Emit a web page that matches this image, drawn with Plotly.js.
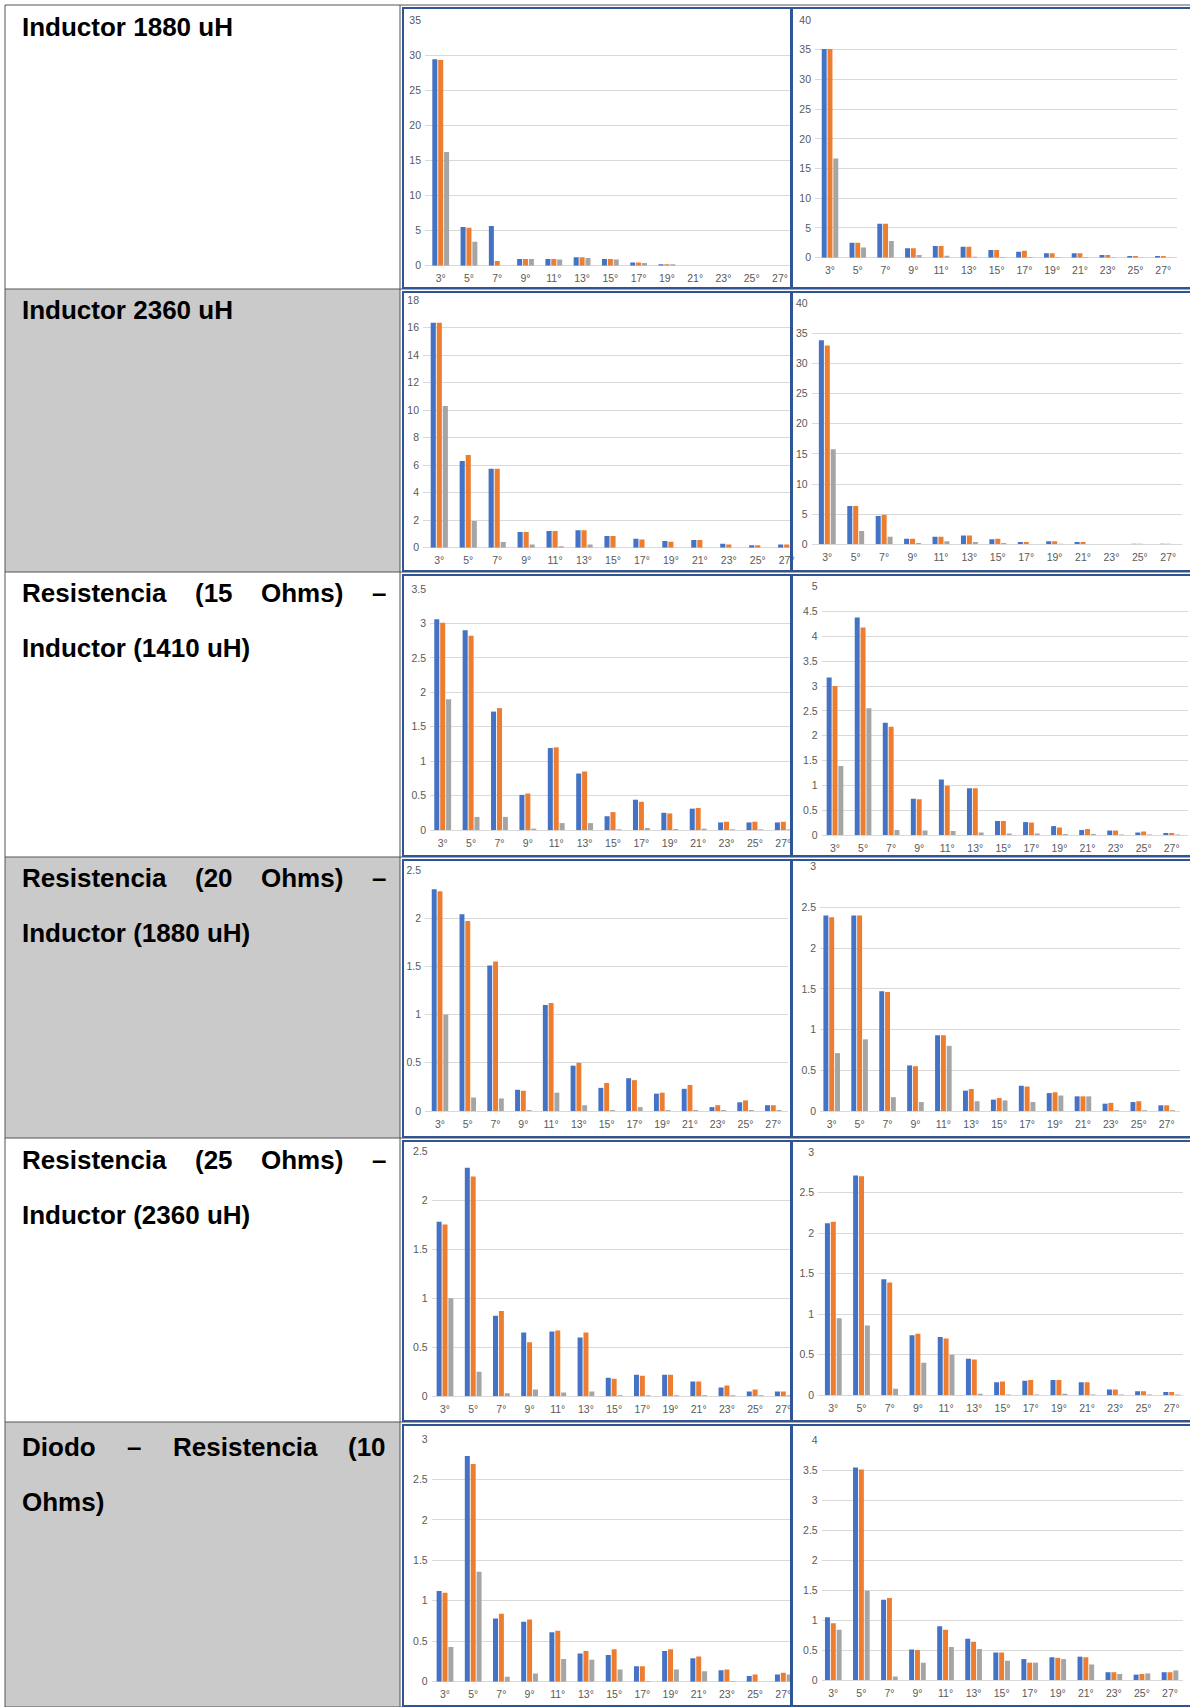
<!DOCTYPE html>
<html>
<head>
<meta charset="utf-8">
<script src="https://cdn.plot.ly/plotly-3.0.1.min.js"></script>
<style>
html,body{margin:0;padding:0;background:#ffffff;}
#chart{width:1190px;height:1707px;}
</style>
</head>
<body>
<div id="chart"></div>
<script>
// ---------- categories ----------
const harmonics = ['3°','5°','7°','9°','11°','13°','15°','17°','19°','21°','23°','25°','27°'];

// ---------- row labels ----------
const rowLabels = [
  ['Inductor 1880 uH'],
  ['Inductor 2360 uH'],
  ['Resistencia (15 Ohms) –', 'Inductor (1410 uH)'],
  ['Resistencia (20 Ohms) –', 'Inductor (1880 uH)'],
  ['Resistencia (25 Ohms) –', 'Inductor (2360 uH)'],
  ['Diodo – Resistencia (10', 'Ohms)']
];

// ---------- series values (one set of three series per chart) ----------
// Row 1: Inductor 1880 uH
const r1L_s1 = [29.4, 5.5, 5.65, 0.95, 0.95, 1.2, 0.95, 0.45, 0.2, 0, 0, 0, 0];
const r1L_s2 = [29.3, 5.4, 0.66, 0.95, 0.95, 1.2, 0.95, 0.45, 0.2, 0, 0, 0, 0];
const r1L_s3 = [16.2, 3.4, 0, 0.95, 0.9, 1.1, 0.9, 0.4, 0.2, 0, 0, 0, 0];
const r1R_s1 = [35.1, 2.5, 5.7, 1.57, 1.96, 1.85, 1.3, 1.0, 0.73, 0.73, 0.45, 0.3, 0.3];
const r1R_s2 = [35.1, 2.5, 5.7, 1.57, 1.96, 1.85, 1.3, 1.18, 0.73, 0.73, 0.45, 0.3, 0.3];
const r1R_s3 = [16.7, 1.7, 2.8, 0.45, 0.33, 0.17, 0.1, 0.1, 0.1, 0.1, 0.06, 0.05, 0.05];
// Row 2: Inductor 2360 uH
const r2L_s1 = [16.35, 6.3, 5.74, 1.14, 1.21, 1.26, 0.85, 0.65, 0.48, 0.56, 0.29, 0.17, 0.24];
const r2L_s2 = [16.35, 6.73, 5.74, 1.14, 1.21, 1.26, 0.85, 0.6, 0.44, 0.56, 0.24, 0.17, 0.24];
const r2L_s3 = [10.3, 1.94, 0.41, 0.24, 0.1, 0.24, 0, 0, 0, 0, 0, 0, 0];
const r2R_s1 = [33.85, 6.36, 4.7, 0.94, 1.27, 1.44, 0.83, 0.39, 0.5, 0.39, 0, 0.11, 0.11];
const r2R_s2 = [33.0, 6.36, 4.92, 0.94, 1.27, 1.44, 0.94, 0.39, 0.5, 0.39, 0, 0.11, 0.11];
const r2R_s3 = [15.76, 2.2, 1.27, 0.22, 0.5, 0.39, 0.22, 0, 0.1, 0, 0, 0, 0];
// Row 3: Resistencia 15 Ohms - Inductor 1410 uH
const r3L_s1 = [3.06, 2.9, 1.72, 0.51, 1.19, 0.82, 0.2, 0.44, 0.25, 0.31, 0.11, 0.11, 0.11];
const r3L_s2 = [3.01, 2.82, 1.77, 0.53, 1.2, 0.85, 0.26, 0.41, 0.24, 0.32, 0.12, 0.12, 0.12];
const r3L_s3 = [1.9, 0.19, 0.19, 0.02, 0.1, 0.1, 0.01, 0.03, 0.015, 0.02, 0.01, 0.01, 0.01];
const r3R_s1 = [3.17, 4.38, 2.26, 0.73, 1.12, 0.94, 0.28, 0.26, 0.18, 0.1, 0.09, 0.05, 0.04];
const r3R_s2 = [3.0, 4.18, 2.18, 0.72, 0.99, 0.94, 0.28, 0.25, 0.15, 0.12, 0.09, 0.07, 0.04];
const r3R_s3 = [1.39, 2.55, 0.1, 0.09, 0.08, 0.05, 0.03, 0.03, 0.02, 0.02, 0.01, 0.01, 0.01];
// Row 4: Resistencia 20 Ohms - Inductor 1880 uH
const r4L_s1 = [2.3, 2.04, 1.51, 0.22, 1.1, 0.47, 0.24, 0.34, 0.18, 0.23, 0.04, 0.09, 0.06];
const r4L_s2 = [2.28, 1.97, 1.55, 0.21, 1.12, 0.5, 0.29, 0.32, 0.19, 0.27, 0.06, 0.11, 0.06];
const r4L_s3 = [1.0, 0.14, 0.13, 0.01, 0.19, 0.06, 0.01, 0.04, 0.01, 0.01, 0.01, 0.01, 0.01];
const r4R_s1 = [2.4, 2.4, 1.47, 0.56, 0.93, 0.25, 0.14, 0.31, 0.22, 0.18, 0.09, 0.11, 0.07];
const r4R_s2 = [2.38, 2.4, 1.46, 0.55, 0.93, 0.27, 0.16, 0.3, 0.23, 0.18, 0.1, 0.12, 0.07];
const r4R_s3 = [0.71, 0.88, 0.17, 0.11, 0.8, 0.12, 0.13, 0.11, 0.19, 0.18, 0.01, 0.01, 0.01];
// Row 5: Resistencia 25 Ohms - Inductor 2360 uH
const r5L_s1 = [1.78, 2.33, 0.82, 0.65, 0.66, 0.6, 0.19, 0.22, 0.22, 0.15, 0.09, 0.05, 0.05];
const r5L_s2 = [1.75, 2.24, 0.87, 0.55, 0.67, 0.65, 0.18, 0.21, 0.22, 0.15, 0.11, 0.07, 0.05];
const r5L_s3 = [1.0, 0.25, 0.03, 0.07, 0.04, 0.05, 0.01, 0.01, 0.01, 0.01, 0.01, 0.01, 0.01];
const r5R_s1 = [2.12, 2.71, 1.43, 0.74, 0.72, 0.45, 0.16, 0.18, 0.19, 0.16, 0.07, 0.05, 0.04];
const r5R_s2 = [2.14, 2.7, 1.39, 0.76, 0.7, 0.44, 0.17, 0.19, 0.19, 0.16, 0.07, 0.05, 0.04];
const r5R_s3 = [0.95, 0.86, 0.08, 0.4, 0.5, 0.02, 0.01, 0.01, 0.02, 0.01, 0.01, 0.01, 0.01];
// Row 6: Diodo - Resistencia 10 Ohms
const r6L_s1 = [1.12, 2.79, 0.78, 0.74, 0.61, 0.35, 0.33, 0.19, 0.38, 0.29, 0.14, 0.07, 0.09];
const r6L_s2 = [1.1, 2.69, 0.84, 0.77, 0.63, 0.38, 0.4, 0.19, 0.4, 0.31, 0.15, 0.09, 0.11];
const r6L_s3 = [0.43, 1.36, 0.06, 0.1, 0.28, 0.27, 0.15, 0.01, 0.15, 0.13, 0.01, 0, 0.09];
const r6R_s1 = [1.05, 3.55, 1.34, 0.51, 0.9, 0.69, 0.46, 0.35, 0.38, 0.39, 0.13, 0.09, 0.13];
const r6R_s2 = [0.95, 3.52, 1.37, 0.5, 0.84, 0.64, 0.46, 0.29, 0.37, 0.38, 0.13, 0.1, 0.13];
const r6R_s3 = [0.84, 1.49, 0.06, 0.29, 0.55, 0.52, 0.32, 0.29, 0.35, 0.26, 0.1, 0.11, 0.16];

// y-axis maxima and tick steps (tick labels)
const yMax  = [35, 40, 18, 40, 3.5, 5, 2.5, 3, 2.5, 3, 3, 4];
const yStep = [5, 5, 2, 5, 0.5, 0.5, 0.5, 0.5, 0.5, 0.5, 0.5, 0.5];

const seriesSets = [
  [r1L_s1, r1L_s2, r1L_s3], [r1R_s1, r1R_s2, r1R_s3],
  [r2L_s1, r2L_s2, r2L_s3], [r2R_s1, r2R_s2, r2R_s3],
  [r3L_s1, r3L_s2, r3L_s3], [r3R_s1, r3R_s2, r3R_s3],
  [r4L_s1, r4L_s2, r4L_s3], [r4R_s1, r4R_s2, r4R_s3],
  [r5L_s1, r5L_s2, r5L_s3], [r5R_s1, r5R_s2, r5R_s3],
  [r6L_s1, r6L_s2, r6L_s3], [r6R_s1, r6R_s2, r6R_s3]
];

// ---------- layout geometry (pixels) ----------
const W = 1190, H = 1707;
const colors = ['#4472C4', '#ED7D31', '#A5A5A5'];
// plot boxes: [gridStartX, gridEndX, firstCatX, lastCatX, zeroY, topY]
const boxes = [
  [425, 790, 440.7, 780, 265.7, 20],
  [815, 1177, 830, 1163.3, 257.7, 20],
  [423, 790, 439.3, 786.7, 547.7, 300],
  [811.7, 1182, 827.3, 1168.3, 544.3, 303.3],
  [430, 792, 442.7, 783.3, 830, 589],
  [821.7, 1188, 835, 1171.7, 835, 586.7],
  [425, 788, 440, 773.3, 1111, 870],
  [820, 1180, 831.7, 1166.7, 1111, 866.7],
  [431.7, 792, 445, 783.3, 1396.3, 1151],
  [818, 1183, 833.3, 1171.7, 1395.3, 1152],
  [431.7, 792, 445, 783.3, 1681.7, 1439],
  [821.7, 1183, 833.3, 1170, 1680, 1440.7]
];
const rowLines = [5, 289, 572, 857, 1138, 1422, 1707];
const splitX = 400, leftX = 5, midX = 791;

const px = v => v / W;
const py = v => 1 - v / H;

const data = [];
const layout = {
  width: W, height: H, autosize: false,
  margin: {l: 0, r: 0, t: 0, b: 0, pad: 0},
  paper_bgcolor: '#ffffff', plot_bgcolor: '#ffffff',
  showlegend: false,
  bargap: 0.375, bargroupgap: 0.15, barmode: 'group',
  font: {family: 'Liberation Sans, Arial, sans-serif', color: '#595959', size: 10.5},
  shapes: [], annotations: []
};

seriesSets.forEach((set, i) => {
  const n = i + 1;
  const xa = 'x' + (n === 1 ? '' : n), ya = 'y' + (n === 1 ? '' : n);
  set.forEach((vals, k) => {
    data.push({
      type: 'bar', x: harmonics, y: vals, xaxis: xa, yaxis: ya,
      name: 'Serie ' + (k + 1), marker: {color: colors[k]},
      hoverinfo: 'x+y'
    });
  });
  const b = boxes[i];
  const d = (b[3] - b[2]) / 12;
  layout['xaxis' + (n === 1 ? '' : n)] = {
    domain: [px(b[0]), px(b[1])], anchor: ya,
    type: 'category', categoryorder: 'array', categoryarray: harmonics,
    range: [(b[0] - b[2]) / d, (b[1] - b[2]) / d],
    showgrid: false, zeroline: false, showline: false, ticks: '',
    tickfont: {size: 10.5, color: '#595959'}, ticklabelstandoff: 5,
    fixedrange: true
  };
  layout['yaxis' + (n === 1 ? '' : n)] = {
    domain: [py(b[4]), py(b[5])], anchor: xa,
    range: [0, yMax[i]], tick0: 0, dtick: yStep[i],
    showgrid: true, gridcolor: '#d9d9d9', gridwidth: 1,
    zeroline: true, zerolinecolor: '#d9d9d9', zerolinewidth: 1,
    showline: false, ticks: '', ticklabelstandoff: 3,
    tickfont: {size: 10.5, color: '#595959'}, fixedrange: true
  };
});

// gray cells for rows 2, 4, 6
[1, 3, 5].forEach(r => {
  layout.shapes.push({type: 'rect', xref: 'paper', yref: 'paper', layer: 'below',
    x0: px(leftX), x1: px(splitX), y0: py(rowLines[r]), y1: py(rowLines[r + 1]),
    fillcolor: '#cacaca', line: {width: 0}});
});
// table lines
rowLines.forEach(y => {
  layout.shapes.push({type: 'line', xref: 'paper', yref: 'paper',
    x0: px(leftX), x1: 1, y0: py(y), y1: py(y), line: {color: '#555555', width: 1}});
});
[leftX, splitX].forEach(x => {
  layout.shapes.push({type: 'line', xref: 'paper', yref: 'paper',
    x0: px(x), x1: px(x), y0: py(rowLines[0]), y1: 0, line: {color: '#555555', width: 1}});
});
// chart frames
for (let r = 0; r < 6; r++) {
  const t = rowLines[r] + 3, bt = rowLines[r + 1] - 1;
  [[splitX + 3, midX], [midX + 1, W + 2]].forEach(([a, c]) => {
    layout.shapes.push({type: 'rect', xref: 'paper', yref: 'paper',
      x0: px(a), x1: px(c), y0: py(bt), y1: py(t),
      line: {color: '#2F5597', width: 2}, fillcolor: 'rgba(0,0,0,0)'});
  });
}

// ---------- row labels (justified like the original) ----------
const labelFont = 'Liberation Sans, Arial, sans-serif';
const labelSize = 26;
const cnv = document.createElement('canvas').getContext('2d');
cnv.font = 'bold ' + labelSize + 'px "Liberation Sans", Arial, sans-serif';
const textLeft = 20, textRight = 384;
const lineY = [[27], [310], [593, 648], [877.6, 933], [1159.6, 1215], [1447, 1501.5]];

function addWord(word, x, y) {
  layout.annotations.push({xref: 'paper', yref: 'paper', x: px(x), y: py(y),
    xanchor: 'left', yanchor: 'middle', showarrow: false,
    text: '<b>' + word + '</b>',
    font: {family: labelFont, size: labelSize, color: '#000000'}});
}
rowLabels.forEach((lines, r) => {
  lines.forEach((line, li) => {
    const y = lineY[r][li];
    const justify = lines.length > 1 && li < lines.length - 1;
    if (!justify) { addWord(line, textLeft, y); return; }
    const words = line.split(' ');
    const widths = words.map(w => cnv.measureText(w).width);
    const total = widths.reduce((a, b) => a + b, 0);
    const gap = (textRight - textLeft - total) / (words.length - 1);
    let x = textLeft;
    words.forEach((w, k) => { addWord(w, x, y); x += widths[k] + gap; });
  });
});

Plotly.newPlot('chart', data, layout, {displayModeBar: false, staticPlot: true});
</script>
</body>
</html>
